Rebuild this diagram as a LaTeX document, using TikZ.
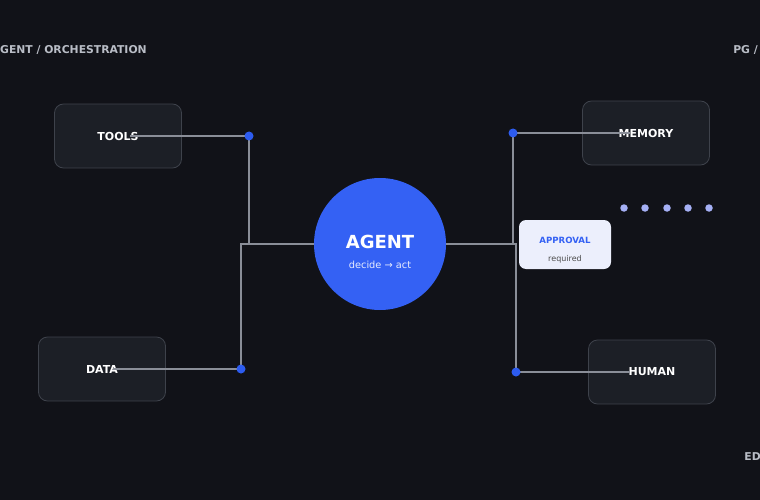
\documentclass[tikz,border=0pt]{standalone}
\usepackage{fontspec}
\setmainfont{DejaVu Sans}
\usetikzlibrary{positioning}
\definecolor{pagebg}{RGB}{17,18,24}
\definecolor{boxbg}{RGB}{28,31,38}
\definecolor{boxline}{RGB}{62,66,75}
\definecolor{wiregray}{RGB}{138,142,152}
\definecolor{agentblue}{RGB}{52,97,244}
\definecolor{dotblue}{RGB}{45,92,240}
\definecolor{softlav}{RGB}{165,176,245}
\definecolor{apprbg}{RGB}{236,239,252}
\definecolor{corner}{RGB}{185,189,198}

\begin{document}
\begin{tikzpicture}[
      x=1pt, y=-1pt,
      every node/.style={text=white},
      card/.style={
        rectangle, rounded corners=9pt,
        draw=boxline, fill=boxbg, line width=0.8pt,
        minimum width=127pt, minimum height=64pt,
        font=\fontsize{11}{13}\selectfont\bfseries
      },
      agentnode/.style={
        circle, fill=agentblue, minimum size=132pt, inner sep=0pt
      },
      approval/.style={
        rectangle, rounded corners=7pt, fill=apprbg,
        minimum width=92pt, minimum height=49pt
      },
      wire/.style={draw=wiregray, line width=1.2pt},
      jdot/.style={circle, fill=dotblue, inner sep=0pt, minimum size=9pt},
      pdot/.style={circle, fill=softlav, inner sep=0pt, minimum size=7.5pt},
      cornertxt/.style={text=corner, font=\fontsize{10.8}{12}\selectfont\bfseries, inner sep=0pt}
    ]
      \fill[pagebg] (0,0) rectangle (760,500);
      \useasboundingbox (0,0) rectangle (760,500);

      % corner labels
      \node[cornertxt, anchor=west] (tl) at (0,50) {GENT / ORCHESTRATION};
      \node[cornertxt, anchor=east] (tr) at (758,50) {PG /};
      \node[cornertxt, anchor=east] (br) at (761,457) {ED};

      % side cards
      \node[card] (tools) at (118,136) {TOOLS};
      \node[card] (data) at (102,369) {DATA};
      \node[card] (memory) at (646,133) {MEMORY};
      \node[card] (human) at (652,372) {HUMAN};

      % junction points
      \coordinate (tdot) at (249,136);
      \coordinate (ddot) at (241,369);
      \coordinate (mdot) at (513,133);
      \coordinate (hdot) at (516,372);

      \node[agentnode] (agent) at (380,244) {};

      % wires
      \draw[wire, shorten <=12pt] (tools.center) -- (tdot) |- (agent.west);
      \draw[wire, shorten <=11pt] (data.center) -- (ddot) |- (agent.west);
      \draw[wire, shorten <=16pt] (memory.center) -- (mdot) |- (agent.east);
      \draw[wire, shorten <=22pt] (human.center) -- (hdot) |- (agent.east);

      \node[jdot] at (tdot) {};
      \node[jdot] at (ddot) {};
      \node[jdot] at (mdot) {};
      \node[jdot] at (hdot) {};

      % centre text
      \node[align=center] (agenttxt) at ([yshift=-8pt]agent) {%
        {\fontsize{18}{21}\selectfont\bfseries AGENT}\\[8pt]
        {\fontsize{9.8}{11}\selectfont\color{white!88!agentblue} decide → act}};

      \node[approval] (appr) at (565,244.5) {};
      \node[align=center] (apprtxt) at ([yshift=-6pt]appr) {%
        {\fontsize{8.6}{10}\selectfont\bfseries\color{agentblue} APPROVAL}\\[6pt]
        {\fontsize{8}{10}\selectfont\color{black!70} required}};

      % dots
      \foreach \px [count=\i] in {624,645,667,688,709}
        \node[pdot] (p\i) at (\px,208) {};
    \end{tikzpicture}
\end{document}
